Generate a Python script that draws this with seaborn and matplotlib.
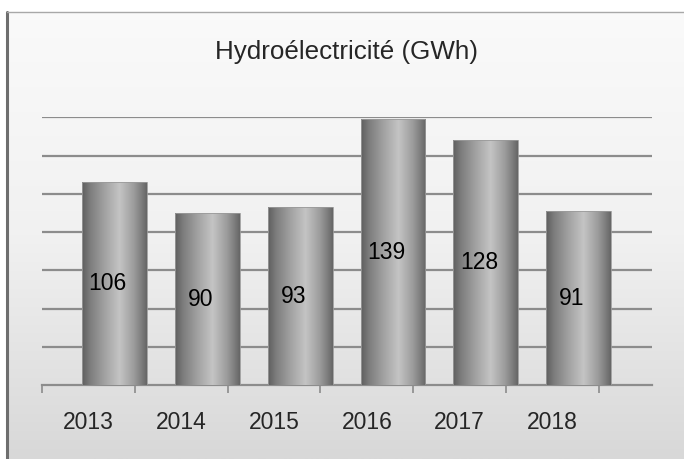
import numpy as np
import pandas as pd
import matplotlib
matplotlib.use('Agg')
import matplotlib.pyplot as plt
from matplotlib.colors import LinearSegmentedColormap
import seaborn as sns

# Données
annees = ['2013', '2014', '2015', '2016', '2017', '2018']
production = [106, 90, 93, 139, 128, 91]
titre = 'Hydroélectricité (GWh)'

df = pd.DataFrame({'Année': annees, 'GWh': production})

sns.set_style('white')
plt.rcParams['font.family'] = ['Liberation Sans Narrow', 'Liberation Sans', 'DejaVu Sans']

W, H = 684, 459
fig = plt.figure(figsize=(W / 100, H / 100), dpi=100)
fig.patch.set_facecolor('white')

# Fond dégradé du cadre
bg = fig.add_axes([0, 0, 1, 1], zorder=-5)
bg.axis('off')
grad_bg = np.linspace(0, 1, 256).reshape(-1, 1)
cmap_bg = LinearSegmentedColormap.from_list('bg', ['#fafafa', '#f1f1f1', '#d8d8d8'])
bg.imshow(grad_bg, cmap=cmap_bg, extent=[7, W, H, 12], aspect='auto')
bg.plot([7, 7], [12, H], color='#6e6e6e', lw=2.2)
bg.plot([7, W], [12, 12], color='#a8a8a8', lw=1.0)
bg.set_xlim(0, W)
bg.set_ylim(H, 0)

# Graphique
ax = fig.add_axes([42 / W, 1 - 385 / H, (652 - 42) / W, (385 - 116.7) / H])
ax.patch.set_alpha(0)
sns.barplot(data=df, x='Année', y='GWh', color='gray', width=0.70, saturation=1, ax=ax, zorder=3)

cmap_bar = LinearSegmentedColormap.from_list(
    'cyl', [(0, '#5e5e5e'), (0.12, '#7c7c7c'), (0.35, '#a2a2a2'), (0.58, '#c4c4c4'),
            (0.8, '#9c9c9c'), (0.94, '#777777'), (1, '#666666')])
grad = np.linspace(0, 1, 256).reshape(1, -1)
for p in ax.patches:
    x0, w, h = p.get_x(), p.get_width(), p.get_height()
    p.set_facecolor('none')
    p.set_edgecolor('#9a9a9a')
    p.set_linewidth(0.6)
    im = ax.imshow(grad, cmap=cmap_bar, extent=[x0, x0 + w, 0, h], aspect='auto', zorder=2.9)
    im.set_clip_path(p)

for i, v in enumerate(production):
    ax.text(i - 0.075, v / 2, str(v), ha='center', va='center', fontsize=16.5, color='black', zorder=5)

ax.set_ylim(0, 140.4)
ax.set_xlim(-0.781, 5.79)
ax.set_yticks(range(20, 141, 20))
ax.set_yticklabels([])
ax.tick_params(axis='y', length=0)
ax.grid(axis='y', color='#8c8c8c', lw=1.6)
ax.set_axisbelow(True)

bords = np.arange(7) - 0.781
ax.set_xticks(bords)
ax.set_xticklabels([])
ax.set_xticks(np.arange(6) - 0.281, minor=True)
ax.set_xticklabels(annees, minor=True, fontsize=16.5)
ax.tick_params(axis='x', which='major', direction='out', length=6, width=1.2, color='#8c8c8c', bottom=True)
ax.tick_params(axis='x', which='minor', length=0, pad=19)

for s in ['top', 'right', 'left']:
    ax.spines[s].set_visible(False)
ax.spines['bottom'].set_color('#8c8c8c')
ax.spines['bottom'].set_linewidth(1.6)
ax.set_xlabel('')
ax.set_ylabel('')

fig.text(346 / W, 1 - 52 / H, titre, ha='center', va='center', fontsize=18.7)

fig.savefig('out.png', dpi=100)
